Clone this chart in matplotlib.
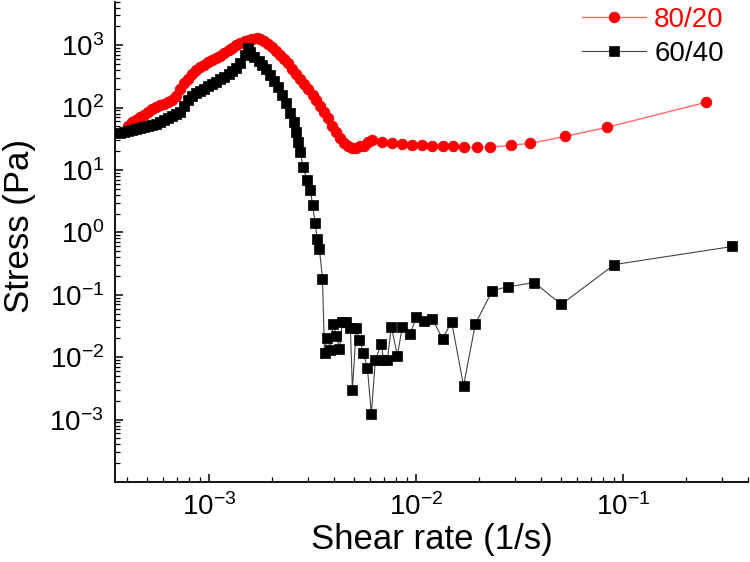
import matplotlib
matplotlib.use("Agg")
import matplotlib.pyplot as plt
import numpy as np

plt.rcParams['font.family'] = ['Liberation Sans', 'DejaVu Sans']
plt.rcParams['mathtext.fontset'] = 'custom'
plt.rcParams['mathtext.rm'] = 'Liberation Sans'
plt.rcParams['mathtext.it'] = 'Liberation Sans'
plt.rcParams['axes.unicode_minus'] = False

# 80/20 blend: shear rate (1/s) vs stress (Pa)
rate_8020 = [4.06e-4, 4.25e-4, 4.44e-4, 4.64e-4, 4.85e-4, 5.07e-4, 5.31e-4, 5.55e-4,
             5.80e-4, 6.06e-4, 6.34e-4, 6.63e-4, 6.93e-4, 7.24e-4, 7.57e-4, 7.92e-4,
             8.28e-4, 8.65e-4, 9.05e-4, 9.46e-4, 9.89e-4, 1.03e-3, 1.08e-3, 1.13e-3,
             1.18e-3, 1.24e-3, 1.29e-3, 1.35e-3, 1.41e-3, 1.48e-3, 1.55e-3, 1.61e-3,
             1.69e-3, 1.76e-3, 1.84e-3, 1.93e-3, 2.01e-3, 2.11e-3, 2.20e-3, 2.30e-3,
             2.41e-3, 2.52e-3, 2.63e-3, 2.75e-3, 2.88e-3, 3.01e-3, 3.15e-3, 3.29e-3,
             3.44e-3, 3.59e-3, 3.76e-3, 3.93e-3, 4.11e-3, 4.29e-3, 4.49e-3, 4.69e-3,
             4.91e-3, 5.13e-3, 5.36e-3, 5.61e-3, 5.86e-3, 6.13e-3, 6.85e-3, 7.66e-3,
             8.55e-3, 9.57e-3, 1.07e-2, 1.19e-2, 1.34e-2, 1.51e-2, 1.69e-2, 1.97e-2,
             2.28e-2, 2.85e-2, 3.55e-2, 5.25e-2, 8.37e-2, 0.252]
stress_8020 = [50.1, 58.1, 62.5, 69.9, 75.2, 84.1, 94.0, 101,
               109, 113, 122, 131, 152, 197, 245, 285,
               342, 397, 444, 477, 533, 574, 618, 665,
               743, 831, 895, 1000, 1077, 1159, 1202, 1248,
               1295, 1248, 1159, 1038, 929, 802, 691, 596,
               514, 412, 342, 285, 237, 197, 158, 131,
               105, 84.1, 67.3, 50.1, 40.1, 32.2, 26.7, 23.9,
               22.2, 22.2, 23.9, 23.9, 27.7, 29.9, 27.7, 26.7,
               25.8, 24.8, 24.8, 23.9, 23.9, 23.9, 23.1, 23.1,
               23.1, 24.8, 26.7, 34.6, 48.3, 122]

# 60/40 blend
rate_6040 = [3.72e-4, 3.88e-4, 4.06e-4, 4.25e-4, 4.44e-4, 4.64e-4, 4.85e-4, 5.07e-4,
             5.31e-4, 5.55e-4, 5.80e-4, 6.06e-4, 6.34e-4, 6.63e-4, 6.93e-4, 7.24e-4,
             7.57e-4, 7.92e-4, 8.28e-4, 8.65e-4, 9.05e-4, 9.46e-4, 9.89e-4, 1.03e-3,
             1.08e-3, 1.13e-3, 1.18e-3, 1.24e-3, 1.29e-3, 1.35e-3, 1.41e-3, 1.48e-3,
             1.53e-3, 1.58e-3, 1.65e-3, 1.73e-3, 1.80e-3, 1.88e-3, 1.97e-3, 2.06e-3,
             2.15e-3, 2.25e-3, 2.35e-3, 2.46e-3, 2.55e-3, 2.63e-3, 2.69e-3, 2.75e-3,
             2.84e-3, 2.97e-3, 3.08e-3, 3.15e-3, 3.25e-3, 3.32e-3, 3.40e-3, 3.52e-3,
             3.60e-3, 3.72e-3, 3.84e-3, 3.97e-3, 4.11e-3, 4.25e-3, 4.39e-3, 4.59e-3,
             4.80e-3, 4.91e-3, 5.13e-3, 5.31e-3, 5.55e-3, 5.80e-3, 6.06e-3, 6.34e-3,
             6.78e-3, 6.93e-3, 7.25e-3, 7.57e-3, 8.10e-3, 8.55e-3, 9.35e-3, 1.00e-2,
             1.09e-2, 1.19e-2, 1.34e-2, 1.48e-2, 1.69e-2, 1.93e-2, 2.33e-2, 2.78e-2,
             3.72e-2, 5.01e-2, 9.05e-2, 0.336]
stress_6040 = [38.7, 40.1, 41.7, 43.3, 44.9, 46.5, 48.3, 50.1,
               52.0, 54.0, 58.1, 62.5, 67.3, 72.5, 78.0, 84.1,
               105, 131, 152, 169, 183, 197, 220, 237,
               255, 285, 306, 342, 383, 427, 514, 691,
               895, 772, 642, 553, 477, 412, 330, 264,
               212, 158, 117, 81.1, 58.1, 40.1, 27.7, 19.2,
               11.0, 6.8, 4.7, 2.7, 1.39, 0.77, 0.55, 0.182,
               0.0118, 0.0206, 0.0132, 0.0345, 0.0221, 0.0137, 0.0371, 0.036,
               0.0298, 0.0030, 0.0298, 0.0191, 0.0118, 0.0068, 0.00124, 0.0091,
               0.0165, 0.0091, 0.0091, 0.0309, 0.0106, 0.0309, 0.0238, 0.0447,
               0.0385, 0.0415, 0.0198, 0.0371, 0.0035, 0.0345, 0.117, 0.135,
               0.157, 0.070, 0.305, 0.594]

fig = plt.figure(figsize=(7.5, 5.62), dpi=100)
ax = fig.add_axes([0.1533, 0.1423, 0.844, 0.855])

l1, = ax.plot(rate_8020, stress_8020, color='#ff6a6a', lw=1.0, marker='o', ms=7.6,
              mfc='#ff0000', mec='#e80000', mew=0.6, label='80/20')
l2, = ax.plot(rate_6040, stress_6040, color='#444444', lw=0.8, marker='s', ms=6.6,
              mfc='black', mec='black', mew=0.5, label='60/40')

ax.set_xscale('log')
ax.set_yscale('log')
ax.set_xlim(3.5e-4, 0.4)
ax.set_ylim(1e-4, 5e3)
ax.set_yticks([1e-3, 1e-2, 1e-1, 1e0, 1e1, 1e2, 1e3])
ax.set_xticks([1e-3, 1e-2, 1e-1])

for s in ['top', 'right']:
    ax.spines[s].set_visible(False)
for s in ['left', 'bottom']:
    ax.spines[s].set_linewidth(1.3)

ax.tick_params(which='major', direction='in', length=6, width=1.1, labelsize=20, pad=8)
ax.tick_params(which='minor', direction='in', length=3.5, width=0.9)

ax.set_xlabel('Shear rate (1/s)', fontsize=25, va='top')
ax.set_ylabel('Stress (Pa)', fontsize=25)
ax.xaxis.set_label_coords(0.5, -0.085)
ax.yaxis.set_label_coords(-0.125, 0.533)

leg = ax.legend(handles=[l1, l2], loc='upper left', bbox_to_anchor=(0.776, 0.988),
                bbox_transform=fig.transFigure, frameon=False, fontsize=20,
                handlelength=2.3, handletextpad=0.3, labelspacing=0.3, borderpad=0,
                borderaxespad=0)
leg.get_texts()[0].set_color('#ff0000')
leg.get_texts()[1].set_color('black')

fig.savefig('out.png', dpi=100)
